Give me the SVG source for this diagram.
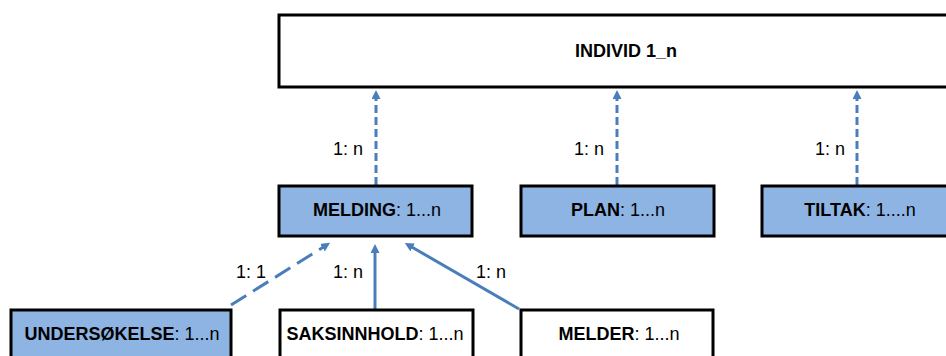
<svg xmlns="http://www.w3.org/2000/svg" width="946" height="356" viewBox="0 0 946 356">
<style>
.box{stroke:#000;stroke-width:3}
.blue{fill:#8eb4e3}
.white{fill:#fff}
.t{font-family:"Liberation Sans",Arial,sans-serif;font-size:18px;fill:#000;text-anchor:middle}
.b{font-weight:bold}
.lbl{font-family:"Liberation Sans",Arial,sans-serif;font-size:18px;fill:#000}
.c{stroke:#4a7ebb;stroke-width:3;fill:none}
.d1{stroke-dasharray:8 4}
.d2{stroke-dasharray:18 8}
</style>
<defs>
<marker id="ah" viewBox="0 0 9 9" markerWidth="9" markerHeight="9" refX="3" refY="4.5" orient="auto" markerUnits="userSpaceOnUse">
<path d="M0,0 L9,4.5 L0,9 z" fill="#4a7ebb"/>
</marker>
</defs>
<rect width="946" height="356" fill="#fff"/>
<g id="connectors">
<line class="c d1" x1="376" y1="185" x2="376" y2="96" marker-end="url(#ah)"/>
<line class="c d1" x1="617" y1="185" x2="617" y2="96" marker-end="url(#ah)"/>
<line class="c d1" x1="857" y1="185" x2="857" y2="96" marker-end="url(#ah)"/>
<line class="c d2" x1="231" y1="305" x2="325" y2="246" marker-end="url(#ah)"/>
<line class="c" x1="375" y1="309" x2="375" y2="250" marker-end="url(#ah)"/>
<line class="c" x1="519" y1="309" x2="410" y2="246" marker-end="url(#ah)"/>
<text class="lbl" x="333" y="155">1: n</text>
<text class="lbl" x="574" y="155">1: n</text>
<text class="lbl" x="815" y="155">1: n</text>
<text class="lbl" x="236" y="278">1: 1</text>
<text class="lbl" x="333" y="278">1: n</text>
<text class="lbl" x="476" y="278">1: n</text>
</g>
<g id="individ">
<rect class="box white" x="279" y="15" width="690" height="72"/>
<text class="t b" x="626" y="57">INDIVID 1_n</text>
</g>
<g id="melding">
<rect class="box blue" x="279" y="186" width="193" height="50"/>
<text class="t" x="377" y="216"><tspan class="b">MELDING</tspan>: 1...n</text>
</g>
<g id="plan">
<rect class="box blue" x="521" y="186" width="193" height="50"/>
<text class="t" x="618" y="216"><tspan class="b">PLAN</tspan>: 1...n</text>
</g>
<g id="tiltak">
<rect class="box blue" x="762" y="186" width="193" height="50"/>
<text class="t" x="860" y="216"><tspan class="b">TILTAK</tspan>: 1....n</text>
</g>
<g id="undersokelse">
<rect class="box blue" x="11" y="310" width="220" height="60"/>
<text class="t" x="122" y="340"><tspan class="b">UNDERSØKELSE</tspan>: 1...n</text>
</g>
<g id="saksinnhold">
<rect class="box white" x="280" y="310" width="193" height="60"/>
<text class="t" x="375" y="340"><tspan class="b">SAKSINNHOLD</tspan>: 1...n</text>
</g>
<g id="melder">
<rect class="box white" x="521" y="310" width="192" height="60"/>
<text class="t" x="619" y="340"><tspan class="b">MELDER</tspan>: 1...n</text>
</g>
</svg>
